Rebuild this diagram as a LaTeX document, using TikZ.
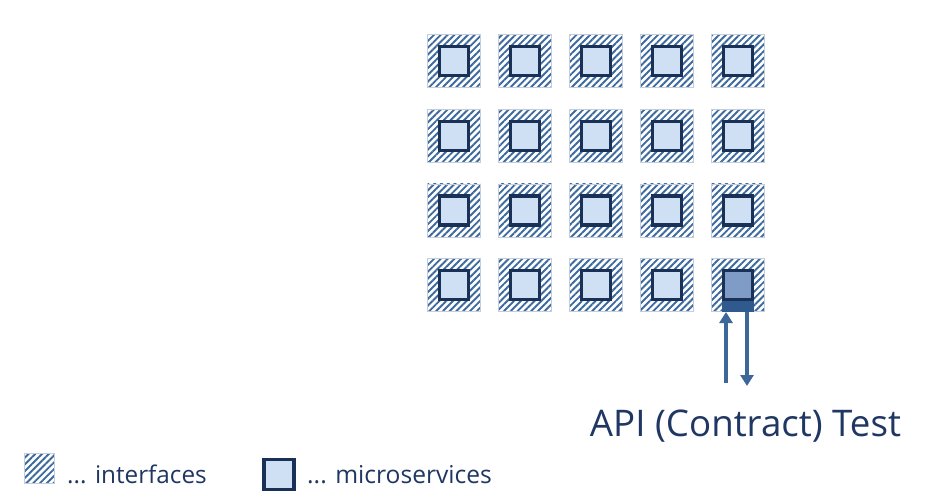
\documentclass[tikz,border=0pt]{standalone}
\usepackage{fontspec}
\setmainfont{Open Sans}
\usetikzlibrary{patterns.meta,arrows.meta}
\definecolor{hatchblue}{HTML}{3D6A9E}
\definecolor{edgegrey}{HTML}{C3CDDB}
\definecolor{navy}{HTML}{1A3157}
\definecolor{lightfill}{HTML}{CFDFF4}
\definecolor{midfill}{HTML}{7E9CC6}
\definecolor{darkblock}{HTML}{30598E}
\definecolor{arrowblue}{HTML}{3E6799}
\definecolor{textnavy}{HTML}{1F3762}
\tikzset{
  iface/.style={draw=edgegrey, line width=0.8pt, minimum size=53pt, inner sep=0pt,
    pattern={Lines[angle=45,distance=4.8pt,line width=1.9pt]}, pattern color=hatchblue},
  msvc/.style={draw=navy, line width=3.2pt, fill=lightfill, minimum size=29pt, inner sep=0pt},
  msvcact/.style={msvc, fill=midfill},
  blockst/.style={fill=darkblock, minimum width=32pt, minimum height=11pt, inner sep=0pt},
  testarrow/.style={draw=arrowblue, line width=4pt, -{Triangle[length=11pt,width=13pt]}},
  lbl/.style={text=textnavy, inner sep=0pt}
}
\begin{document}
\begin{tikzpicture}[x=1pt,y=-1pt]
\useasboundingbox[fill=white] (0,0) rectangle (934,496);
\foreach \c [count=\i] in {454,525,596,667,738}{
  \foreach \r [count=\j] in {61,135.7,210.4,285}{
    \node[iface] (o\i\j) at (\c,\r) {};
  }
}
\foreach \c [count=\i] in {454,525,596,667}{
  \foreach \r [count=\j] in {61,135.7,210.4,285}{
    \node[msvc] (m\i\j) at (\c,\r) {};
  }
}
\foreach \r [count=\j] in {61,135.7,210.4}{
  \node[msvc] (m5\j) at (738,\r) {};
}
\node[msvcact] (m54) at (738,285) {};
\node[blockst, anchor=south] (blk) at (738,312) {};
\coordinate (upstart) at (726,383);
\coordinate (downend) at (747,386);
\draw[testarrow] (upstart) -- (upstart |- blk.south);
\draw[testarrow] (downend |- blk.south) -- (downend);
\node[lbl, font=\fontsize{36.7}{42}\selectfont, anchor=base] (test) at (745.5,436) {API (Contract) Test};
% legend
\node[iface, minimum size=30pt] (legi) at (39.5,468) {};
\node[lbl, font=\fontsize{24.3}{28}\selectfont, anchor=base west] (legit) at (67,483) {... interfaces};
\node[msvc, minimum size=30pt] (legm) at (279,474.5) {};
\node[lbl, font=\fontsize{24.6}{28}\selectfont, anchor=base west] (legmt) at (307,483) {... microservices};
\end{tikzpicture}
\end{document}
